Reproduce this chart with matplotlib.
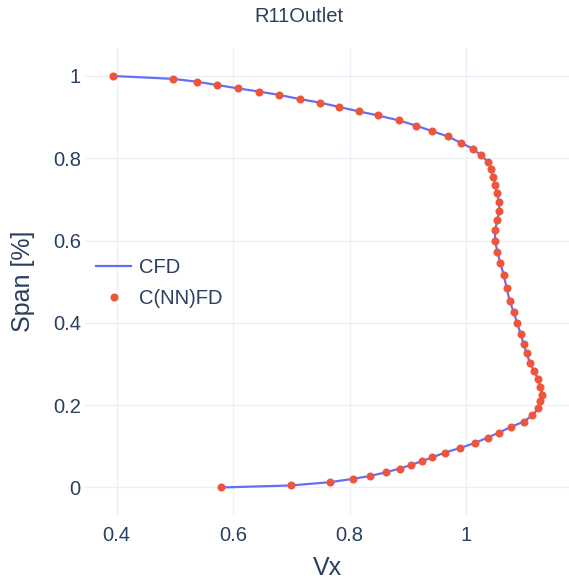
import matplotlib
matplotlib.use("Agg")
import matplotlib.pyplot as plt

plt.rcParams["font.family"] = ["Liberation Sans", "DejaVu Sans"]

# Vx / span, hub (0) to shroud (1)
cnn_vx = [
    0.579, 0.700, 0.767, 0.806, 0.835, 0.863, 0.886, 0.906, 0.924, 0.942,
    0.964, 0.990, 1.015, 1.037, 1.056, 1.077, 1.099, 1.114, 1.124, 1.128,
    1.131, 1.128, 1.124, 1.117, 1.110, 1.104, 1.099, 1.094, 1.088, 1.082,
    1.075, 1.070, 1.065, 1.059, 1.054, 1.050, 1.050, 1.054, 1.057, 1.057,
    1.053, 1.050, 1.047, 1.043, 1.038, 1.025, 1.012, 0.992, 0.969, 0.942,
    0.915, 0.885, 0.849, 0.816, 0.781, 0.750, 0.714, 0.679, 0.645, 0.608,
    0.573, 0.538, 0.497, 0.393,
]
cnn_span = [
    0.000, 0.005, 0.013, 0.021, 0.028, 0.037, 0.046, 0.055, 0.064, 0.073,
    0.085, 0.096, 0.108, 0.121, 0.133, 0.147, 0.160, 0.175, 0.192, 0.209,
    0.225, 0.244, 0.263, 0.283, 0.303, 0.326, 0.349, 0.373, 0.399, 0.426,
    0.454, 0.484, 0.516, 0.545, 0.572, 0.600, 0.626, 0.649, 0.672, 0.694,
    0.716, 0.736, 0.755, 0.773, 0.791, 0.808, 0.823, 0.837, 0.853, 0.866,
    0.879, 0.892, 0.904, 0.914, 0.925, 0.935, 0.944, 0.954, 0.962, 0.970,
    0.978, 0.986, 0.993, 1.000,
]
# CFD curve runs through the same points
cfd_vx = list(cnn_vx)
cfd_span = list(cnn_span)

x_ticks = [0.4, 0.6, 0.8, 1.0]
x_tick_labels = ["0.4", "0.6", "0.8", "1"]
y_ticks = [0, 0.2, 0.4, 0.6, 0.8, 1.0]
y_tick_labels = ["0", "0.2", "0.4", "0.6", "0.8", "1"]

text_color = "#2a3f5f"
grid_color = "#ebf0f8"

fig = plt.figure(figsize=(5.69, 5.84), dpi=100)
ax = fig.add_axes([0.1494, 0.1182, 0.8506, 0.7996])

ax.plot(cfd_vx, cfd_span, color="#636efa", linewidth=1.6, label="CFD", zorder=2)
ax.plot(cnn_vx, cnn_span, linestyle="none", marker="o", markersize=5.8,
        color="#ef553b", markeredgewidth=0, label="C(NN)FD", zorder=3)

ax.set_xlim(0.3455, 1.177)
ax.set_ylim(-0.0668, 1.068)
ax.set_xticks(x_ticks)
ax.set_xticklabels(x_tick_labels)
ax.set_yticks(y_ticks)
ax.set_yticklabels(y_tick_labels)
ax.tick_params(axis="both", length=0, labelsize=14.5, labelcolor=text_color)
ax.tick_params(axis="x", pad=8)
ax.tick_params(axis="y", pad=3)
ax.grid(True, color=grid_color, linewidth=1.0)
ax.set_axisbelow(True)
for side in ax.spines.values():
    side.set_visible(False)

ax.set_xlabel("Vx", fontsize=18, color=text_color, labelpad=8)
ax.set_ylabel("Span [%]", fontsize=18, color=text_color, labelpad=13)

fig.text(0.526, 0.971, "R11Outlet", fontsize=14.5, color=text_color,
         ha="center", va="center")

leg = fig.legend(loc="upper left", bbox_to_anchor=(0.155, 0.572), frameon=False,
                 fontsize=14.5, handlelength=1.75, handletextpad=0.35,
                 labelspacing=0.6, borderaxespad=0)
for t in leg.get_texts():
    t.set_color(text_color)

fig.savefig("out.png", dpi=100)
